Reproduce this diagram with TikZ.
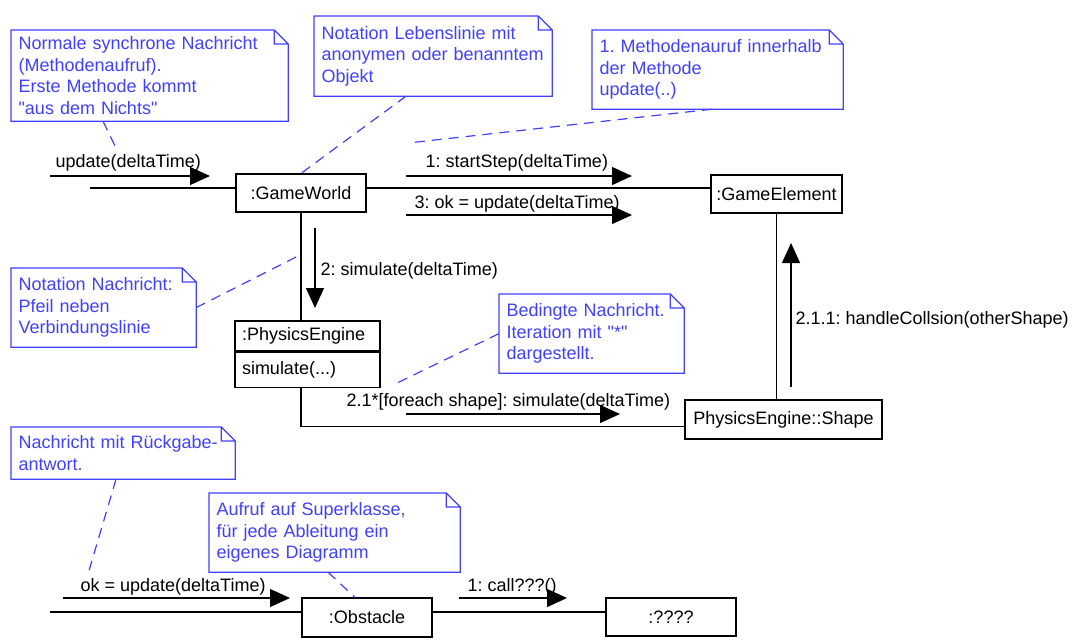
\documentclass[tikz,border=0pt]{standalone}
\usepackage{fontspec}
\setmainfont{Liberation Sans}[Ligatures=TeXOff]
\usepackage{xcolor}
\usetikzlibrary{arrows.meta}

\definecolor{notecol}{RGB}{64,64,255}
\frenchspacing

\begin{document}
\begin{tikzpicture}[x=1pt, y=-1pt, line width=1.2pt,
    every node/.style={font=\fontsize{18}{21.5}\selectfont},
    obj/.style={draw, rectangle, text centered, minimum width=130pt, minimum height=38pt, inner sep=2pt},
    note/.style={text=notecol, anchor=north west, align=left, inner xsep=7pt, inner ysep=3pt},
    lbl/.style={anchor=west, inner sep=0pt},
    msg/.style={-{Triangle[length=20pt,width=18pt]}},
    hint/.style={draw=notecol, dash pattern=on 10pt off 7pt}]

    \useasboundingbox (0,0) rectangle (1083,642);

    % Objects
    \node[obj] (gw) at (301,193) {:GameWorld};
    \node[obj, minimum width=131pt] (ge) at (776.5,194) {:GameElement};
    \node[obj, minimum width=145pt, minimum height=30pt, text width=131pt, align=left] (pe) at (307.5,336) {:PhysicsEngine};
    \node[obj, minimum width=145pt, minimum height=35pt, text width=131pt, align=left, anchor=north] (pesim) at (pe.south) {simulate(...)};
    \node[obj, minimum width=197pt, minimum height=39pt] (shape) at (783.5,419.5) {PhysicsEngine::Shape};
    \node[obj, minimum height=39pt] (ob) at (367,617.5) {:Obstacle};
    \node[obj] (q) at (671,617) {:????};

    % Notes
    \node[note, minimum width=276pt, minimum height=90pt, text width=262pt] (n1) at (11,30) {Normale synchrone Nachricht\\(Methodenaufruf).\\Erste Methode kommt\\"aus dem Nichts"};
    \node[note, minimum width=237pt, minimum height=79pt, text width=223pt] (n2) at (314,16) {Notation Lebenslinie mit\\anonymen oder benanntem\\Objekt};
    \node[note, minimum width=250pt, minimum height=78pt, text width=236pt] (n3) at (592,30) {1. Methodenauruf innerhalb\\der Methode\\update(..)};
    \node[note, minimum width=184pt, minimum height=78pt, text width=170pt] (n4) at (11,268) {Notation Nachricht:\\Pfeil neben\\Verbindungslinie};
    \node[note, minimum width=184pt, minimum height=78pt, text width=170pt] (n5) at (499,294) {Bedingte Nachricht.\\Iteration mit "*"\\dargestellt.};
    \node[note, minimum width=223pt, minimum height=51pt, text width=209pt] (n6) at (11,427) {Nachricht mit R\"uckgabe-\\antwort.};
    \node[note, minimum width=250pt, minimum height=78pt, text width=236pt] (n7) at (209,493) {Aufruf auf Superklasse,\\f\"ur jede Ableitung ein\\eigenes Diagramm};

    \foreach \n in {n1,n2,n3,n4,n5,n6,n7}
        \draw[notecol] (\n.south west) -- (\n.north west) -- ([xshift=-14pt]\n.north east)
            -- ([yshift=-14pt]\n.north east) -- (\n.south east) -- cycle
            ([xshift=-14pt]\n.north east) |- ([yshift=-14pt]\n.north east);

    % Links
    \coordinate (in1) at (90,188);
    \coordinate (in2) at (50,612);
    \draw (in1) -- (in1 -| gw.west);
    \draw ([yshift=5pt]gw.east) -- ([yshift=5pt]gw.east -| ge.west);
    \draw (gw.south) -- (gw.south |- pe.north);
    \draw (gw.south |- pesim.south) |- ([yshift=-7pt]shape.west);
    \draw (ge.south) -- (ge.south |- shape.north);
    \draw (in2) -- (in2 -| ob.west);
    \draw (ob.east |- in2) -- (in2 -| q.west);

    % Messages
    \coordinate (m0a) at (50,176);   \coordinate (m0b) at (210,176);
    \coordinate (m1a) at (406,176);  \coordinate (m1b) at (632,176);
    \coordinate (m3a) at (406,215);  \coordinate (m3b) at (632,215);
    \coordinate (m2a) at (315,228);  \coordinate (m2b) at (315,308);
    \coordinate (m21a) at (406,414); \coordinate (m21b) at (620,414);
    \coordinate (m211a) at (791,387); \coordinate (m211b) at (791,243);
    \coordinate (r0a) at (63,598);   \coordinate (r0b) at (290,598);
    \coordinate (r1a) at (459,598);  \coordinate (r1b) at (567,598);

    \draw[msg] (m0a) -- (m0b);
    \draw[msg] (m1a) -- (m1b);
    \draw[msg] (m3a) -- (m3b);
    \draw[msg] (m2a) -- (m2b);
    \draw[msg] (m21a) -- (m21b);
    \draw[msg] (m211a) -- (m211b);
    \draw[msg] (r0a) -- (r0b);
    \draw[msg] (r1a) -- (r1b);

    \node[lbl] (l0) at (55,163) {update(deltaTime)};
    \node[lbl] (l1) at (425,163) {1: startStep(deltaTime)};
    \node[lbl] (l3) at (414,204) {3: ok = update(deltaTime)};
    \node[lbl] (l2) at (320,271) {2: simulate(deltaTime)};
    \node[lbl] (l21) at (346,402) {2.1*[foreach shape]: simulate(deltaTime)};
    \node[lbl] (l211) at (795,320) {2.1.1: handleCollsion(otherShape)};
    \node[lbl] (lr0) at (80,587) {ok = update(deltaTime)};
    \node[lbl] (lr1) at (467,587) {1: call???()};

    % Note hints
    \coordinate (t1) at (116,148);
    \coordinate (t3) at (408,143);
    \coordinate (t4) at (300,255);
    \coordinate (t5) at (395,384);
    \coordinate (t6) at (88,574);
    \draw[hint] ([xshift=92pt]n1.south west) -- (t1);
    \draw[hint] ([xshift=92pt]n2.south west) -- (gw.north);
    \draw[hint] ([xshift=120pt]n3.south west) -- (t3);
    \draw[hint] (n4.east) -- (t4);
    \draw[hint] (n5.west) -- (t5);
    \draw[hint] ([xshift=105pt]n6.south west) -- (t6);
    \draw[hint] ([xshift=119pt]n7.south west) -- ([xshift=-12pt]ob.north);

\end{tikzpicture}
\end{document}
